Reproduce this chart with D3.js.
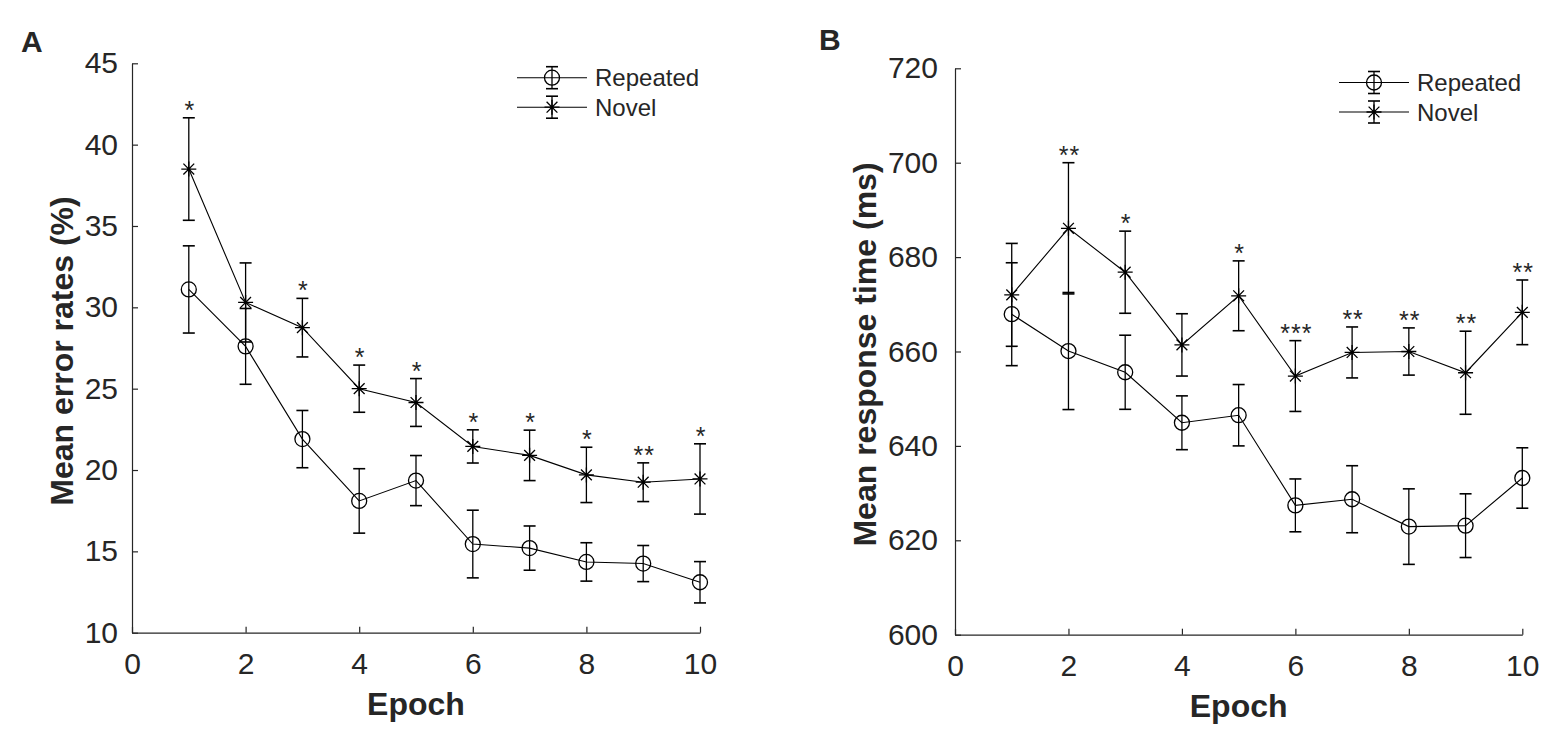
<!DOCTYPE html>
<html>
<head>
<meta charset="utf-8">
<script src="https://cdn.jsdelivr.net/npm/d3@7"></script>
<style>
  body { margin: 0; background: white; }
  text { font-family: "Liberation Sans", Arial, sans-serif; fill: #262626; }
</style>
</head>
<body>
<script>
// dati
var epochs = [1, 2, 3, 4, 5, 6, 7, 8, 9, 10];

// pannello A: tasso di errore (%)
var errRepeated   = [31.1, 27.6, 21.9, 18.1, 19.35, 15.45, 15.2, 14.35, 14.25, 13.1];
var errRepeatedSE = [2.68, 2.33, 1.76, 1.98, 1.54, 2.08, 1.36, 1.18, 1.11, 1.27];
var errNovel      = [38.5, 30.3, 28.75, 25.0, 24.15, 21.45, 20.9, 19.7, 19.25, 19.45];
var errNovelSE    = [3.15, 2.43, 1.8, 1.45, 1.47, 1.02, 1.55, 1.7, 1.19, 2.16];
var errStars      = ["*", "", "*", "*", "*", "*", "*", "*", "**", "*"];
var errTicks      = [10, 15, 20, 25, 30, 35, 40, 45];

// pannello B: tempo di risposta (ms)
var rtRepeated   = [667.9, 660.1, 655.6, 644.9, 646.5, 627.4, 628.7, 622.9, 623.1, 633.2];
var rtRepeatedSE = [10.9, 12.4, 7.85, 5.7, 6.5, 5.6, 7.1, 8.0, 6.75, 6.4];
var rtNovel      = [672.0, 686.1, 676.8, 661.4, 671.8, 654.8, 659.8, 660.0, 655.5, 668.3];
var rtNovelSE    = [10.9, 13.9, 8.7, 6.6, 7.4, 7.5, 5.4, 5.0, 8.8, 6.85];
var rtStars      = ["", "**", "*", "", "*", "***", "**", "**", "**", "**"];
var rtTicks      = [600, 620, 640, 660, 680, 700, 720];

var xTicks = [0, 2, 4, 6, 8, 10];
var seriesNames = ["Repeated", "Novel"];

var svg = d3.select("body").append("svg")
    .attr("width", 1562)
    .attr("height", 746)
    .style("background", "white");

var axisColor = "#262626";
var capHalf = 6;

// disegna un asterisco (marker '*' di matlab)
function starPath(cx, cy, r) {
  var d = r * 0.72;
  return "M" + (cx - r) + "," + cy + "H" + (cx + r) +
         "M" + cx + "," + (cy - r) + "V" + (cy + r) +
         "M" + (cx - d) + "," + (cy - d) + "L" + (cx + d) + "," + (cy + d) +
         "M" + (cx - d) + "," + (cy + d) + "L" + (cx + d) + "," + (cy - d);
}

function drawMarker(g, type, cx, cy) {
  if (type == "circle") {
    g.append("circle").attr("cx", cx).attr("cy", cy).attr("r", 7.5)
      .attr("fill", "none").attr("stroke", "black").attr("stroke-width", 1.3);
  } else {
    g.append("path").attr("d", starPath(cx, cy, 7.5))
      .attr("fill", "none").attr("stroke", "black").attr("stroke-width", 1.3);
  }
}

function drawErrorBar(g, cx, yTop, yBot) {
  g.append("line").attr("x1", cx).attr("x2", cx).attr("y1", yTop).attr("y2", yBot)
    .attr("stroke", "black").attr("stroke-width", 1.3);
  [yTop, yBot].forEach(function (yy) {
    g.append("line").attr("x1", cx - capHalf).attr("x2", cx + capHalf)
      .attr("y1", yy).attr("y2", yy)
      .attr("stroke", "black").attr("stroke-width", 1.6);
  });
}

function drawPanel(p) {
  var g = svg.append("g");
  var x = d3.scaleLinear().domain([0, 10]).range([p.left, p.right]);
  var y = d3.scaleLinear().domain([p.yTicks[0], p.yTicks[p.yTicks.length - 1]]).range([p.bottom, p.top]);

  // assi
  var ax = g.append("g")
    .attr("transform", "translate(0," + p.bottom + ")")
    .call(d3.axisBottom(x).tickValues(xTicks).tickSizeInner(-6).tickSizeOuter(0).tickPadding(20));
  var ay = g.append("g")
    .attr("transform", "translate(" + p.left + ",0)")
    .call(d3.axisLeft(y).tickValues(p.yTicks).tickSizeInner(-6).tickSizeOuter(0).tickPadding(p.yPad));
  [ax, ay].forEach(function (a) {
    a.selectAll("path, line").attr("stroke", axisColor).attr("stroke-width", 1.2);
    a.selectAll("text").style("font-size", "30px").attr("fill", axisColor);
  });

  // serie
  var series = [
    {vals: p.rep, se: p.repSE, marker: "circle"},
    {vals: p.nov, se: p.novSE, marker: "star"}
  ];
  var line = d3.line().x(function (d, i) { return x(epochs[i]); }).y(function (d) { return y(d); });

  series.forEach(function (s) {
    g.append("path").attr("d", line(s.vals))
      .attr("fill", "none").attr("stroke", "black").attr("stroke-width", 1.1);
    s.vals.forEach(function (v, i) {
      drawErrorBar(g, x(epochs[i]), y(v + s.se[i]), y(v - s.se[i]));
      drawMarker(g, s.marker, x(epochs[i]), y(v));
    });
  });

  // asterischi di significatività sopra la barra più alta
  p.stars.forEach(function (st, i) {
    if (!st) return;
    var top = Math.max(p.nov[i] + p.novSE[i], p.rep[i] + p.repSE[i]);
    g.append("text")
      .attr("x", x(epochs[i]) + 1)
      .attr("y", y(top) + 1)
      .attr("text-anchor", "middle")
      .style("font-size", "25px")
      .style("letter-spacing", "1px")
      .attr("fill", "black")
      .text(st);
  });

  // titoli degli assi
  g.append("text")
    .attr("x", (p.left + p.right) / 2)
    .attr("y", p.bottom + 82)
    .attr("text-anchor", "middle")
    .style("font-size", "32px").style("font-weight", "bold")
    .text("Epoch");
  g.append("text")
    .attr("transform", "translate(" + p.yLabelX + "," + ((p.top + p.bottom) / 2 + 3) + ") rotate(-90)")
    .attr("text-anchor", "middle")
    .style("font-size", "32px").style("font-weight", "bold")
    .text(p.yLabel);

  // lettera del pannello
  g.append("text")
    .attr("x", p.letterX).attr("y", p.letterY)
    .style("font-size", "30px").style("font-weight", "bold")
    .attr("fill", "black")
    .text(p.letter);

  // legenda
  var markers = ["circle", "star"];
  seriesNames.forEach(function (name, k) {
    var ly = p.legY + k * 29.5;
    g.append("line").attr("x1", p.legX).attr("x2", p.legX + 70).attr("y1", ly).attr("y2", ly)
      .attr("stroke", "black").attr("stroke-width", 1.1);
    drawErrorBar(g, p.legX + 35, ly - 11, ly + 11);
    drawMarker(g, markers[k], p.legX + 35, ly);
    g.append("text").attr("x", p.legX + 78).attr("y", ly)
      .attr("dy", "0.36em")
      .style("font-size", "24px")
      .attr("fill", "black")
      .text(name);
  });
}

drawPanel({
  left: 132, right: 700, top: 63.3, bottom: 632.7,
  yTicks: errTicks, yPad: 14,
  rep: errRepeated, repSE: errRepeatedSE, nov: errNovel, novSE: errNovelSE,
  stars: errStars,
  yLabel: "Mean error rates (%)", yLabelX: 73,
  letter: "A", letterX: 21, letterY: 52,
  legX: 517, legY: 77.7
});

drawPanel({
  left: 955, right: 1522.3, top: 68.3, bottom: 634.7,
  yTicks: rtTicks, yPad: 17,
  rep: rtRepeated, repSE: rtRepeatedSE, nov: rtNovel, novSE: rtNovelSE,
  stars: rtStars,
  yLabel: "Mean response time (ms)", yLabelX: 876,
  letter: "B", letterX: 819, letterY: 50,
  legX: 1339, legY: 82.5
});
</script>
</body>
</html>
